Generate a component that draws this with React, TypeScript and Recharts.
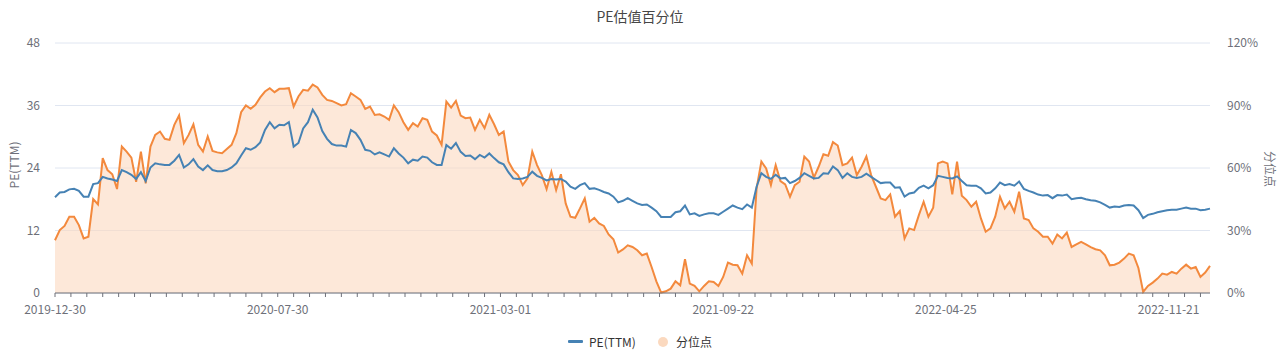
import React from "react";
import { ComposedChart, Line, Area, XAxis, YAxis, CartesianGrid } from "recharts";

const peTTM = [
  18.4, 19.3, 19.4, 19.9, 20.0, 19.6, 18.5, 18.5, 20.9, 21.1,
  22.3, 22.0, 21.8, 21.5, 23.6, 23.2, 22.7, 21.9, 23.2, 21.5,
  24.1, 24.9, 24.7, 24.6, 24.6, 25.4, 26.5, 24.1, 24.7, 25.7,
  24.3, 23.6, 24.5, 23.6, 23.4, 23.4, 23.6, 24.1, 24.9, 26.4,
  27.8, 27.5, 28.0, 28.9, 31.3, 32.8, 31.6, 32.3, 32.2, 32.8,
  28.1, 28.8, 31.6, 32.8, 35.2, 33.7, 31.1, 29.6, 28.6, 28.3,
  28.3, 28.1, 31.3, 30.7, 29.4, 27.5, 27.3, 26.6, 27.0, 26.6,
  26.2, 27.8, 26.8, 26.0, 24.9, 25.6, 25.4, 26.2, 26.0, 25.1,
  24.6, 24.6, 28.4, 27.7, 28.8, 27.1, 26.3, 26.4, 25.7, 26.5,
  26.0, 26.8, 25.9, 25.1, 24.7, 23.2, 22.0, 21.9, 22.0, 22.3,
  23.3, 22.5, 22.1, 21.6, 21.9, 21.8, 21.9, 21.4, 20.4, 20.0,
  20.7, 21.1, 20.0, 20.1, 19.8, 19.4, 19.1, 18.5, 17.4, 17.7,
  18.2, 17.7, 17.2, 16.9, 17.0, 16.4, 15.7, 14.6, 14.6, 14.6,
  15.5, 15.7, 16.8, 15.1, 15.3, 14.8, 15.1, 15.3, 15.3, 15.0,
  15.6, 16.2, 16.8, 16.4, 16.1, 17.0, 16.4, 20.4, 23.0, 22.3,
  21.9, 22.7, 22.0, 22.1, 21.1, 21.5, 22.1, 23.0, 22.5, 22.0,
  22.1, 23.0, 22.9, 24.3, 23.6, 22.1, 23.0, 22.3, 22.1, 22.3,
  22.9, 22.3, 21.7, 21.1, 21.2, 21.2, 20.2, 20.3, 18.5, 19.1,
  19.3, 20.2, 20.6, 20.1, 20.7, 22.5, 22.3, 22.1, 22.0, 22.4,
  21.5, 20.7, 20.6, 20.6, 20.1, 19.1, 19.3, 20.1, 21.2, 20.7,
  20.9, 20.6, 21.4, 20.0, 19.6, 19.3, 18.9, 18.7, 18.8, 18.2,
  18.8, 18.7, 18.9, 18.0, 18.2, 18.3, 18.0, 17.8, 17.7, 17.4,
  16.9, 16.4, 16.6, 16.5, 16.8, 16.9, 16.8, 15.9, 14.4, 15.0,
  15.2, 15.5, 15.7, 15.9, 16.0, 16.0, 16.2, 16.4, 16.2, 16.2,
  15.9, 16.0, 16.2,
];

const percentile = [
  25.3, 30.2, 32.2, 36.6, 36.6, 32.6, 26.2, 27.0, 45.1, 42.5,
  64.7, 59.0, 57.0, 49.9, 70.3, 67.9, 65.0, 53.4, 67.9, 52.6,
  70.3, 75.9, 77.5, 74.0, 73.5, 80.7, 85.2, 71.9, 75.9, 81.0,
  71.1, 67.9, 75.1, 68.2, 67.5, 67.1, 69.1, 71.1, 76.7, 86.8,
  90.0, 88.4, 90.3, 93.9, 96.7, 98.3, 96.4, 98.0, 98.0, 98.3,
  89.5, 94.3, 97.5, 97.1, 100, 98.7, 95.1, 92.7, 92.2, 91.1,
  90.0, 90.6, 95.9, 94.3, 92.7, 88.4, 89.5, 85.5, 85.8, 84.7,
  83.1, 90.0, 86.8, 82.0, 78.3, 81.5, 79.9, 83.9, 83.1, 77.5,
  75.6, 71.1, 91.9, 89.0, 92.2, 85.2, 83.9, 84.2, 78.3, 83.1,
  79.1, 85.5, 81.0, 75.9, 77.5, 63.1, 59.0, 56.6, 51.8, 55.0,
  67.9, 61.4, 56.6, 49.9, 58.2, 49.4, 57.0, 43.0, 36.6, 36.1,
  40.6, 45.4, 34.2, 36.1, 33.4, 32.2, 28.1, 25.8, 19.4, 20.9,
  22.9, 22.1, 20.5, 18.1, 18.9, 12.5, 5.6, 0.2, 0.8, 2.1,
  5.6, 3.7, 16.2, 4.5, 3.4, 0.8, 3.4, 5.6, 5.3, 3.4,
  7.7, 14.6, 13.6, 13.3, 9.3, 18.1, 14.1, 50.2, 63.1, 59.8,
  51.8, 61.4, 53.7, 52.1, 46.2, 51.8, 53.4, 65.5, 63.1, 55.4,
  60.6, 66.6, 65.9, 72.4, 70.8, 61.4, 62.2, 65.0, 56.6, 60.6,
  65.5, 56.6, 51.0, 45.4, 44.6, 47.3, 36.6, 39.3, 26.2, 31.0,
  30.2, 37.4, 43.8, 36.6, 40.9, 62.2, 63.1, 62.2, 47.3, 63.1,
  46.7, 44.6, 41.4, 43.8, 35.8, 29.4, 31.0, 36.6, 46.2, 40.6,
  43.8, 39.0, 48.6, 35.8, 35.0, 31.0, 29.4, 27.0, 27.0, 23.7,
  28.1, 26.2, 29.0, 22.1, 23.3, 24.5, 23.3, 22.0, 21.0, 20.5,
  18.1, 13.3, 13.6, 14.6, 16.5, 18.9, 18.1, 12.0, 0.5, 3.4,
  5.0, 6.9, 9.3, 8.8, 10.1, 9.3, 11.7, 13.6, 11.7, 12.5,
  7.7, 9.8, 13.0,
];

const dateLabels = ["2019-12-30", "2020-07-30", "2021-03-01", "2021-09-22", "2022-04-25", "2022-11-21"];
const peTicks = [0, 12, 24, 36, 48];
const pctTicks = [0, 30, 60, 90, 120];

const DAY_STEP = 3;
const TICK_EVERY = 10;
const LABEL_EVERY = 140;

const BLUE = "#4682b4";
const ORANGE = "#f3893d";
const PEACH = "#fbd9bf";
const AXIS_GRAY = "#6e7079";
const FONT = "'Microsoft YaHei', 'Noto Sans CJK SC', 'Noto Sans', sans-serif";

const data = peTTM.map((v, i) => ({ day: i * DAY_STEP, pe: v, pct: percentile[i] }));
const lastDay = (peTTM.length - 1) * DAY_STEP;
const xTicks: number[] = [];
for (let d = 0; d <= lastDay; d += TICK_EVERY) xTicks.push(d);

const fmtDay = (d: number) => (d % LABEL_EVERY === 0 ? dateLabels[d / LABEL_EVERY] ?? "" : "");

export default function App() {
  const tickStyle = { fill: AXIS_GRAY, fontSize: 12, fontFamily: FONT };
  return (
    <div style={{ position: "relative", width: 1288, height: 358, fontFamily: FONT, background: "#fff" }}>
      <style>{`body{margin:0}`}</style>
      <div style={{ position: "absolute", top: 6, left: 0, width: 1280, textAlign: "center", fontSize: 14, color: "#464646" }}>
        PE估值百分位
      </div>
      <ComposedChart width={1288} height={358} data={data} margin={{ top: 43, right: 0, bottom: 35, left: 0 }}>
        <CartesianGrid vertical={false} stroke="#e0e6f1" yAxisId="pe" />
        <XAxis
          dataKey="day"
          type="number"
          domain={[0, lastDay]}
          ticks={xTicks}
          interval={0}
          tickFormatter={fmtDay}
          height={30}
          stroke={AXIS_GRAY}
          tickSize={4}
          tickMargin={8}
          tick={tickStyle}
        />
        <YAxis yAxisId="pe" orientation="left" domain={[0, 48]} ticks={peTicks} width={55} axisLine={false} tickLine={false} tickMargin={9} tick={tickStyle} />
        <YAxis
          yAxisId="pct"
          orientation="right"
          domain={[0, 120]}
          ticks={pctTicks}
          width={78}
          axisLine={false}
          tickLine={false}
          tickMargin={11}
          tick={tickStyle}
          tickFormatter={(v: number) => `${v}%`}
        />
        <Area yAxisId="pct" type="linear" dataKey="pct" name="分位点" stroke={ORANGE} strokeWidth={2} fill={PEACH} fillOpacity={0.6} dot={false} isAnimationActive={false} />
        <Line yAxisId="pe" type="linear" dataKey="pe" name="PE(TTM)" stroke={BLUE} strokeWidth={2} dot={false} isAnimationActive={false} />
      </ComposedChart>
      <div style={{ position: "absolute", left: 13, top: 165, transform: "translate(-50%,-50%) rotate(-90deg)", fontSize: 12, color: AXIS_GRAY, whiteSpace: "nowrap" }}>
        PE(TTM)
      </div>
      <div style={{ position: "absolute", left: 1270, top: 169, transform: "translate(-50%,-50%) rotate(90deg)", fontSize: 12, color: AXIS_GRAY, whiteSpace: "nowrap" }}>
        分位点
      </div>
      <div style={{ position: "absolute", left: 568, top: 333, display: "flex", alignItems: "center", fontSize: 12, color: "#333", lineHeight: "17px" }}>
        <span style={{ display: "inline-block", width: 15, height: 3, background: BLUE, borderRadius: 1 }} />
        <span style={{ marginLeft: 6 }}>PE(TTM)</span>
        <span style={{ display: "inline-block", width: 10, height: 10, borderRadius: 5, background: PEACH, marginLeft: 22 }} />
        <span style={{ marginLeft: 8 }}>分位点</span>
      </div>
    </div>
  );
}
